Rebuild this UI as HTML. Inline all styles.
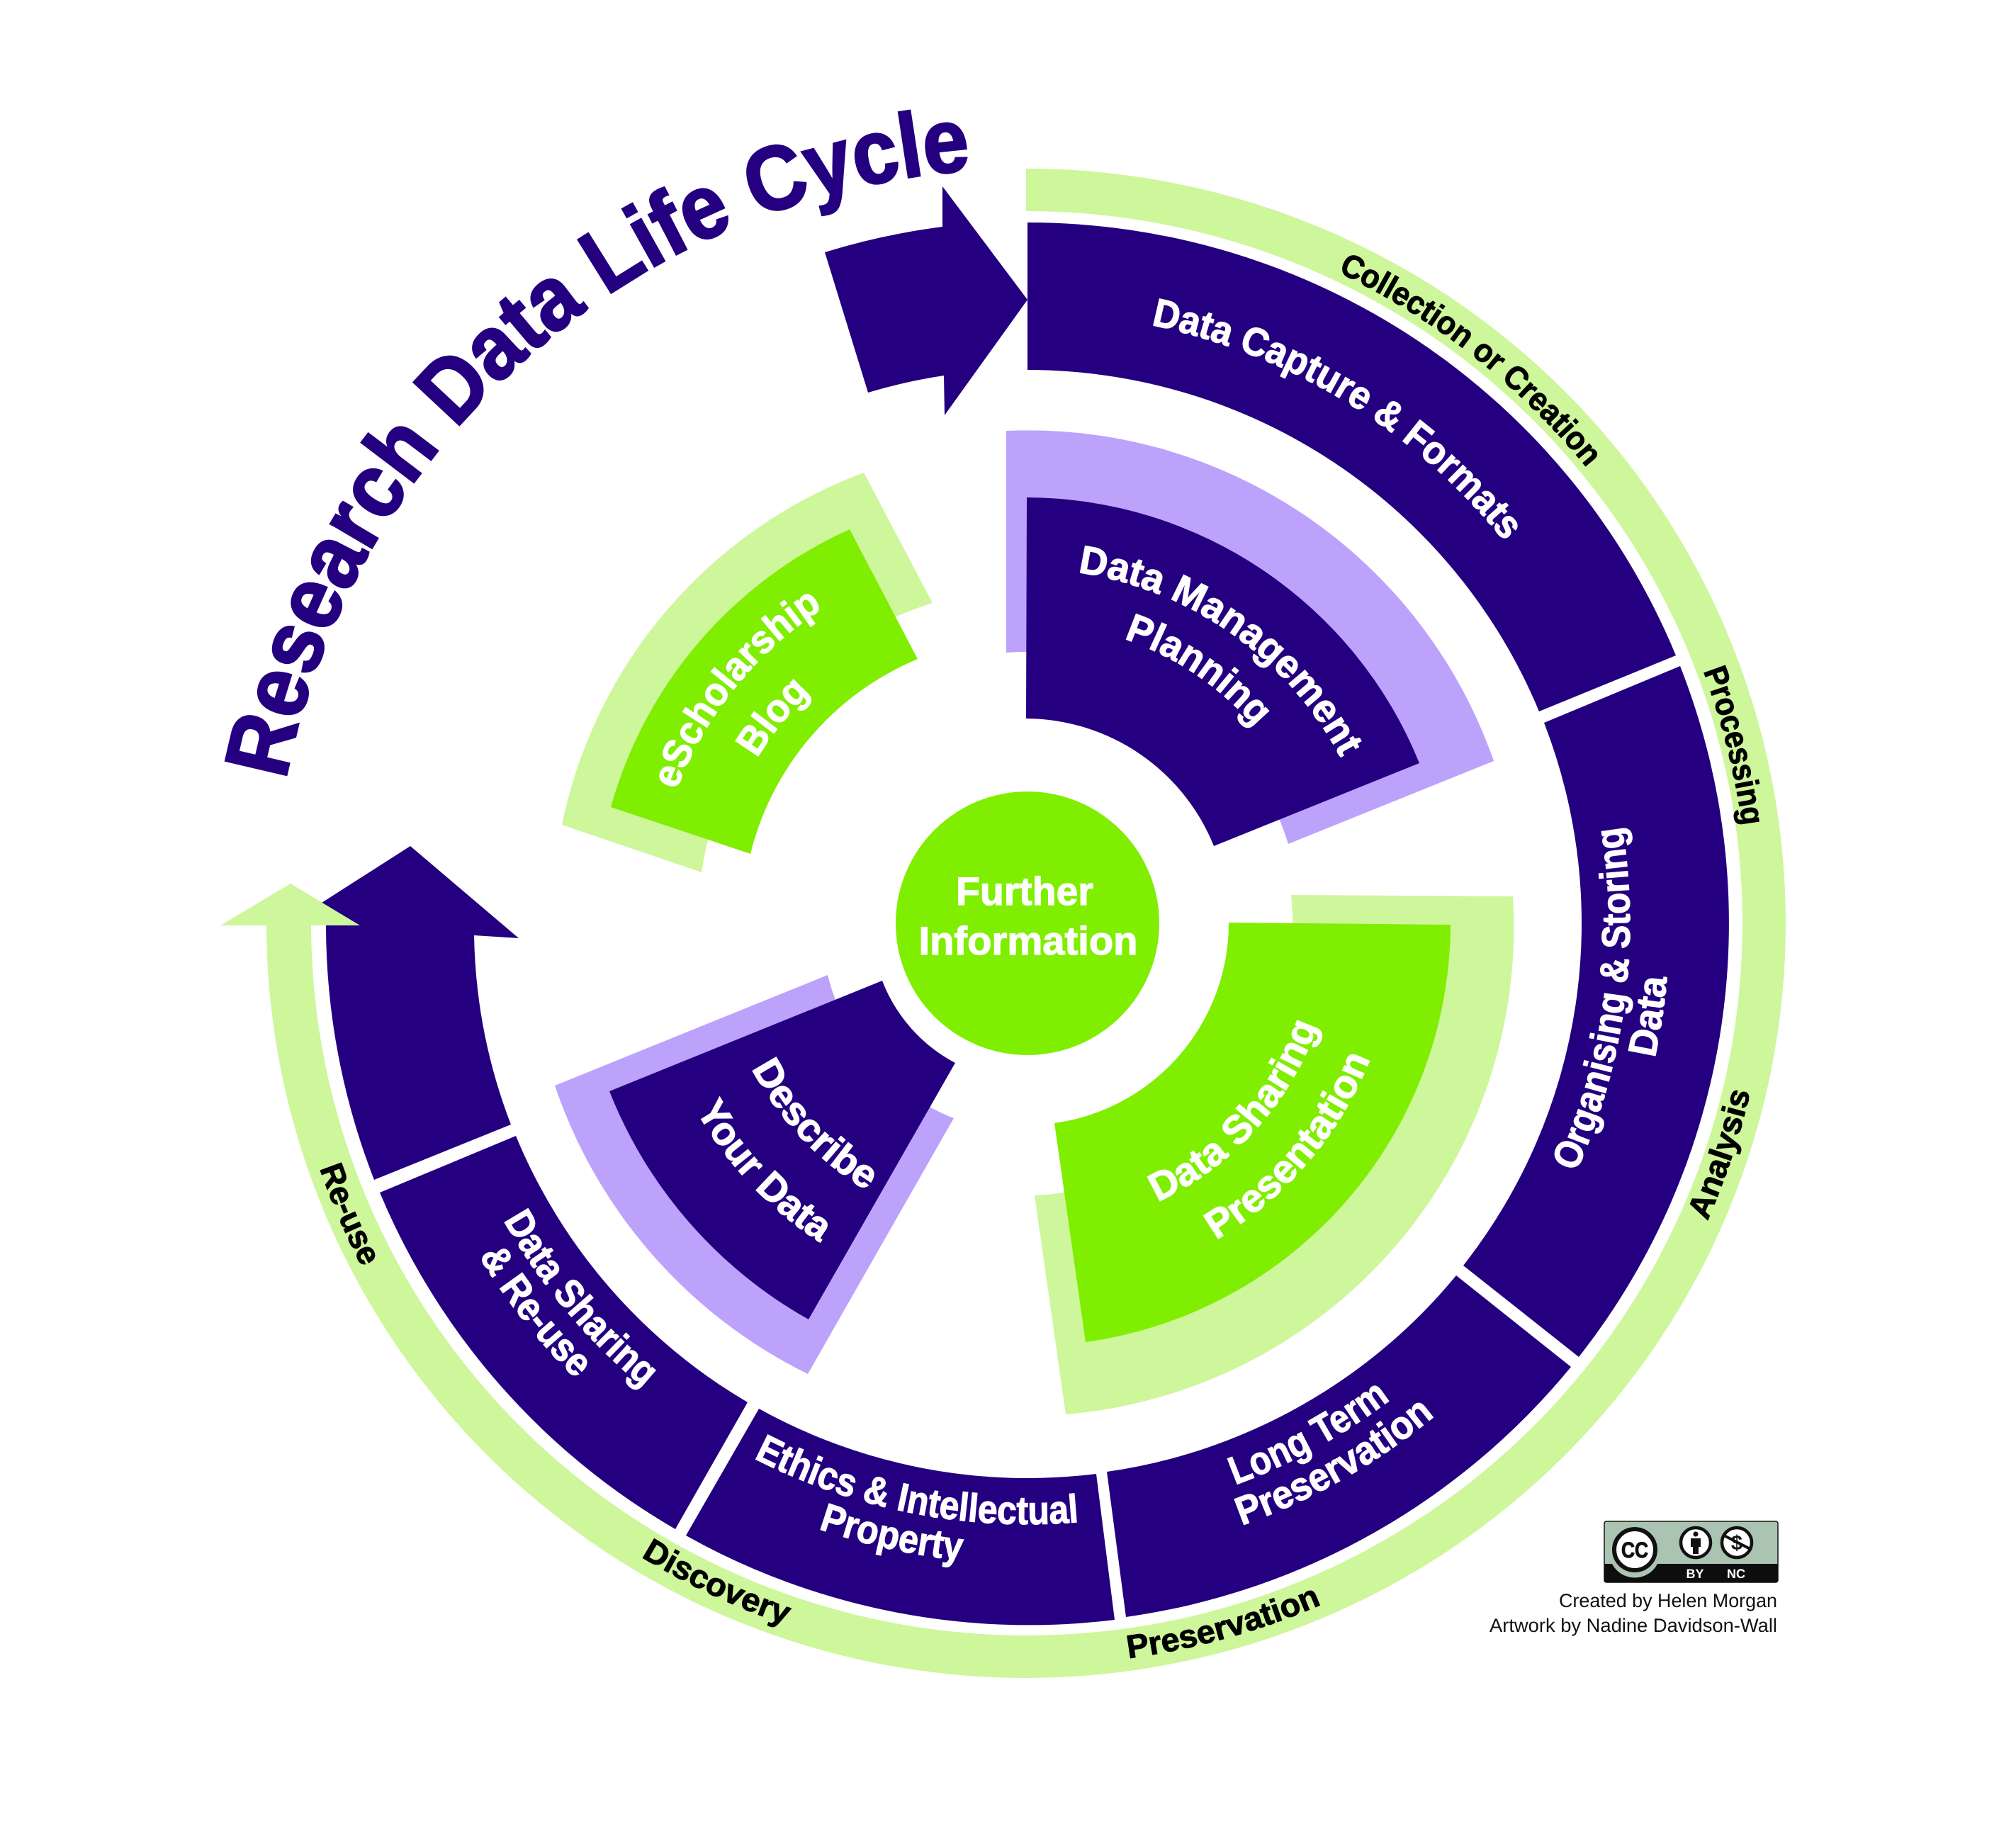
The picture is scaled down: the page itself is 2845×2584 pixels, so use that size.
<!DOCTYPE html>
<html>
<head>
<meta charset="utf-8">
<title>Research Data Life Cycle</title>
<style>
html,body{margin:0;padding:0;background:#fff;}
svg{display:block;}
text{font-family:"Liberation Sans",sans-serif;font-weight:bold;text-anchor:middle;text-rendering:geometricPrecision;}
.w{fill:#fff;stroke:#fff;stroke-width:1.2px;font-size:56px;}
.k{fill:#000;stroke:#000;stroke-width:1px;font-size:46px;}
.t{fill:#240080;stroke:#240080;stroke-width:3px;font-size:128px;}
</style>
</head>
<body>
<svg xmlns="http://www.w3.org/2000/svg" width="2845" height="2584" viewBox="0 0 2845 2584">
<defs>
<path id="c862" d="M1450,441 A862 862 0 1 1 1450,2165 A862 862 0 1 1 1450,441"/>
<path id="c500" d="M1450,803 A500 500 0 1 1 1450,1803 A500 500 0 1 1 1450,803"/>
<path id="c424" d="M1450,879 A424 424 0 1 1 1450,1727 A424 424 0 1 1 1450,879"/>
<path id="c530" d="M1450,773 A530 530 0 1 1 1450,1833 A530 530 0 1 1 1450,773"/>
<path id="c447" d="M1450,856 A447 447 0 1 1 1450,1750 A447 447 0 1 1 1450,856"/>
<path id="c1018" d="M1450,285 A1018 1018 0 1 1 1450,2321 A1018 1018 0 1 1 1450,285"/>
<path id="c1066" d="M1450,237 A1066 1066 0 1 1 1450,2369 A1066 1066 0 1 1 1450,237"/>
<path id="w850" d="M1450,453 A850 850 0 1 0 1450,2153 A850 850 0 1 0 1450,453"/>
<path id="w845" d="M1450,458 A845 845 0 1 0 1450,2148 A845 845 0 1 0 1450,458"/>
<path id="w902" d="M1450,401 A902 902 0 1 0 1450,2205 A902 902 0 1 0 1450,401"/>
<path id="w848" d="M1450,455 A848 848 0 1 0 1450,2151 A848 848 0 1 0 1450,455"/>
<path id="w904" d="M1450,399 A904 904 0 1 0 1450,2207 A904 904 0 1 0 1450,399"/>
<path id="w905" d="M1450,398 A905 905 0 1 0 1450,2208 A905 905 0 1 0 1450,398"/>
<path id="w440" d="M1450,863 A440 440 0 1 0 1450,1743 A440 440 0 1 0 1450,863"/>
<path id="w537" d="M1450,766 A537 537 0 1 0 1450,1840 A537 537 0 1 0 1450,766"/>
<path id="w434" d="M1450,869 A434 434 0 1 0 1450,1737 A434 434 0 1 0 1450,869"/>
<path id="w520" d="M1450,783 A520 520 0 1 0 1450,1823 A520 520 0 1 0 1450,783"/>
<path id="w1047" d="M1450,256 A1047 1047 0 1 0 1450,2350 A1047 1047 0 1 0 1450,256"/>
<path id="w1057" d="M1450,246 A1057 1057 0 1 0 1450,2360 A1057 1057 0 1 0 1450,246"/>
</defs>

<rect width="2845" height="2584" fill="#fff"/>

<!-- outer dark ring -->
<g fill="#240080">
<path d="M1450,314 A989 989 0 0 1 2365,925 L2172,1004 A782 782 0 0 0 1450,522 Z"/>
<path d="M2371,940 A990 990 0 0 1 2228,1915 L2065,1786 A782 782 0 0 0 2179,1020 Z"/>
<path d="M2217,1929 A990 990 0 0 1 1589,2282 L1562,2077 A782 782 0 0 0 2055,1800 Z"/>
<path d="M1573,2286 A990 990 0 0 1 968,2167 L1071,1988 A782 782 0 0 0 1547,2080 Z"/>
<path d="M953,2158 A990 990 0 0 1 536,1683 L728,1603 A782 782 0 0 0 1055,1979 Z"/>
<path d="M528,1665 A990 990 0 0 1 460,1306 L454,1274 L579,1194 L732,1324 L669,1320 A782 782 0 0 0 721,1587 Z"/>
<path d="M1164,356 A989 989 0 0 1 1330,320 L1330,263 L1450,423 L1333,586 L1332,530 A782 782 0 0 0 1225,554 Z"/>
</g>

<!-- light outer band with arrowhead -->
<path fill="#CEF69B" d="M1448,238 A1072 1065 0 1 1 376,1306 L311,1306 L410,1247 L508,1306 L439,1306 A1010 1005 0 1 0 1448,298 Z"/>

<!-- Data Management Planning -->
<path fill="#BDA2FC" d="M1420,608 A696 696 0 0 1 2108,1074 L1818,1191 A384 384 0 0 0 1420,921 Z"/>
<path fill="#240080" d="M1449,702 A600 600 0 0 1 2003,1077 L1713,1194 A287 287 0 0 0 1448,1014 Z"/>

<!-- eScholarship Blog -->
<path fill="#CEF69B" d="M793,1164 A675 675 0 0 1 1219,667 L1316,851 A469 469 0 0 0 990,1231 Z"/>
<path fill="#80EE00" d="M862,1139 A610 610 0 0 1 1199,747 L1295,930 A403 403 0 0 0 1059,1205 Z"/>

<!-- Data Sharing Presentation -->
<path fill="#CEF69B" d="M2135,1265 A690 690 0 0 1 1504,1996 L1460,1687 A382 382 0 0 0 1822,1263 Z"/>
<path fill="#80EE00" d="M2047,1305 A597 597 0 0 1 1532,1894 L1488,1585 A285 285 0 0 0 1734,1302 Z"/>

<!-- Describe Your Data -->
<path fill="#BDA2FC" d="M1140,1939 A706 706 0 0 1 783,1532 L1168,1376 A292 292 0 0 0 1346,1578 Z"/>
<path fill="#240080" d="M1141,1862 A637 637 0 0 1 860,1540 L1245,1384 A221 221 0 0 0 1348,1500 Z"/>

<!-- centre -->
<circle cx="1450" cy="1303" r="186" fill="#80EE00"/>
<text class="w" x="1446" y="1277" textLength="194" lengthAdjust="spacingAndGlyphs">Further</text>
<text class="w" x="1451" y="1347" textLength="309" lengthAdjust="spacingAndGlyphs">Information</text>

<!-- title -->
<text class="t"><textPath href="#c1066" startOffset="88.42%" textLength="1392" lengthAdjust="spacingAndGlyphs">Research Data Life Cycle</textPath></text>

<!-- clockwise white labels -->
<text class="w"><textPath href="#c862" startOffset="8.75%" textLength="597" lengthAdjust="spacingAndGlyphs">Data Capture &amp; Formats</textPath></text>
<text class="w"><textPath href="#c500" startOffset="9.76%" textLength="471" lengthAdjust="spacingAndGlyphs">Data Management</textPath></text>
<text class="w"><textPath href="#c424" startOffset="9.44%" textLength="226" lengthAdjust="spacingAndGlyphs">Planning</textPath></text>
<text class="w"><textPath href="#c530" startOffset="85.8%" textLength="335" lengthAdjust="spacingAndGlyphs">eScholarship</textPath></text>
<text class="w"><textPath href="#c447" startOffset="85.85%" textLength="120" lengthAdjust="spacingAndGlyphs">Blog</textPath></text>

<!-- counter-clockwise white labels -->
<text class="w"><textPath href="#w850" startOffset="72.9%" textLength="500" lengthAdjust="spacingAndGlyphs">Organising &amp; Storing</textPath></text>
<text class="w"><textPath href="#w905" startOffset="72.64%" textLength="115" lengthAdjust="spacingAndGlyphs">Data</textPath></text>
<text class="w"><textPath href="#w845" startOffset="58%" textLength="251" lengthAdjust="spacingAndGlyphs">Long Term</textPath></text>
<text class="w"><textPath href="#w902" startOffset="58.22%" textLength="315" lengthAdjust="spacingAndGlyphs">Preservation</textPath></text>
<text class="w"><textPath href="#w848" startOffset="46.92%" textLength="474" lengthAdjust="spacingAndGlyphs">Ethics &amp; Intellectual</textPath></text>
<text class="w"><textPath href="#w904" startOffset="46.53%" textLength="207" lengthAdjust="spacingAndGlyphs">Property</textPath></text>
<text class="w"><textPath href="#w850" startOffset="36.11%" textLength="310" lengthAdjust="spacingAndGlyphs">Data Sharing</textPath></text>
<text class="w"><textPath href="#w905" startOffset="35.63%" textLength="221" lengthAdjust="spacingAndGlyphs">&amp; Re-use</textPath></text>
<text class="w"><textPath href="#w440" startOffset="37.05%" textLength="240" lengthAdjust="spacingAndGlyphs">Describe</textPath></text>
<text class="w"><textPath href="#w537" startOffset="37%" textLength="258" lengthAdjust="spacingAndGlyphs">Your Data</textPath></text>
<text class="w"><textPath href="#w434" startOffset="63.28%" textLength="345" lengthAdjust="spacingAndGlyphs">Data Sharing</textPath></text>
<text class="w"><textPath href="#w520" startOffset="63.78%" textLength="342" lengthAdjust="spacingAndGlyphs">Presentation</textPath></text>

<!-- black band labels -->
<text class="k"><textPath href="#c1018" startOffset="10.6%" textLength="450" lengthAdjust="spacingAndGlyphs">Collection or Creation</textPath></text>
<text class="k"><textPath href="#c1018" startOffset="21.08%" textLength="226" lengthAdjust="spacingAndGlyphs">Processing</textPath></text>
<text class="k"><textPath href="#w1047" startOffset="69.89%" textLength="192" lengthAdjust="spacingAndGlyphs">Analysis</textPath></text>
<text class="k"><textPath href="#w1047" startOffset="54.33%" textLength="284" lengthAdjust="spacingAndGlyphs">Preservation</textPath></text>
<text class="k"><textPath href="#w1047" startOffset="43%" textLength="226" lengthAdjust="spacingAndGlyphs">Discovery</textPath></text>
<text class="k"><textPath href="#w1057" startOffset="31.45%" textLength="152" lengthAdjust="spacingAndGlyphs">Re-use</textPath></text>

<!-- CC badge -->
<g>
<rect x="2264" y="2147" width="245" height="86" rx="3" fill="#AAC4B1" stroke="#111" stroke-width="1.5"/>
<path d="M2264,2207 H2509 V2230 a3,3 0 0 1 -3,3 H2267 a3,3 0 0 1 -3,-3 Z" fill="#0d0d0d"/>
<path d="M2275,2207 A36 36 0 0 0 2339,2207 Z" fill="#AAC4B1"/>
<circle cx="2307" cy="2187" r="29" fill="#fff" stroke="#111" stroke-width="6"/>
<text x="2307" y="2198" style="font-size:31px;fill:#111;stroke:#111;stroke-width:1px" textLength="38" lengthAdjust="spacingAndGlyphs">CC</text>
<circle cx="2393" cy="2177" r="21" fill="#fff" stroke="#111" stroke-width="4.5"/>
<circle cx="2393" cy="2165" r="3.6" fill="#111"/>
<path d="M2386,2171 h14 v12 h-3 v10 h-8 v-10 h-3 Z" fill="#111"/>
<circle cx="2451" cy="2177" r="21" fill="#fff" stroke="#111" stroke-width="4.5"/>
<text x="2451" y="2187" style="font-size:29px;fill:#111">$</text>
<line x1="2433" y1="2167" x2="2470" y2="2186" stroke="#111" stroke-width="4"/>
<text x="2392" y="2227" style="font-size:18px;fill:#fff">BY</text>
<text x="2450" y="2227" style="font-size:18px;fill:#fff">NC</text>
</g>
<text x="2508" y="2268" style="font-size:27px;font-weight:normal;fill:#111;text-anchor:end" textLength="308" lengthAdjust="spacingAndGlyphs">Created by Helen Morgan</text>
<text x="2508" y="2303" style="font-size:27px;font-weight:normal;fill:#111;text-anchor:end" textLength="406" lengthAdjust="spacingAndGlyphs">Artwork by Nadine Davidson-Wall</text>
</svg>
</body>
</html>
